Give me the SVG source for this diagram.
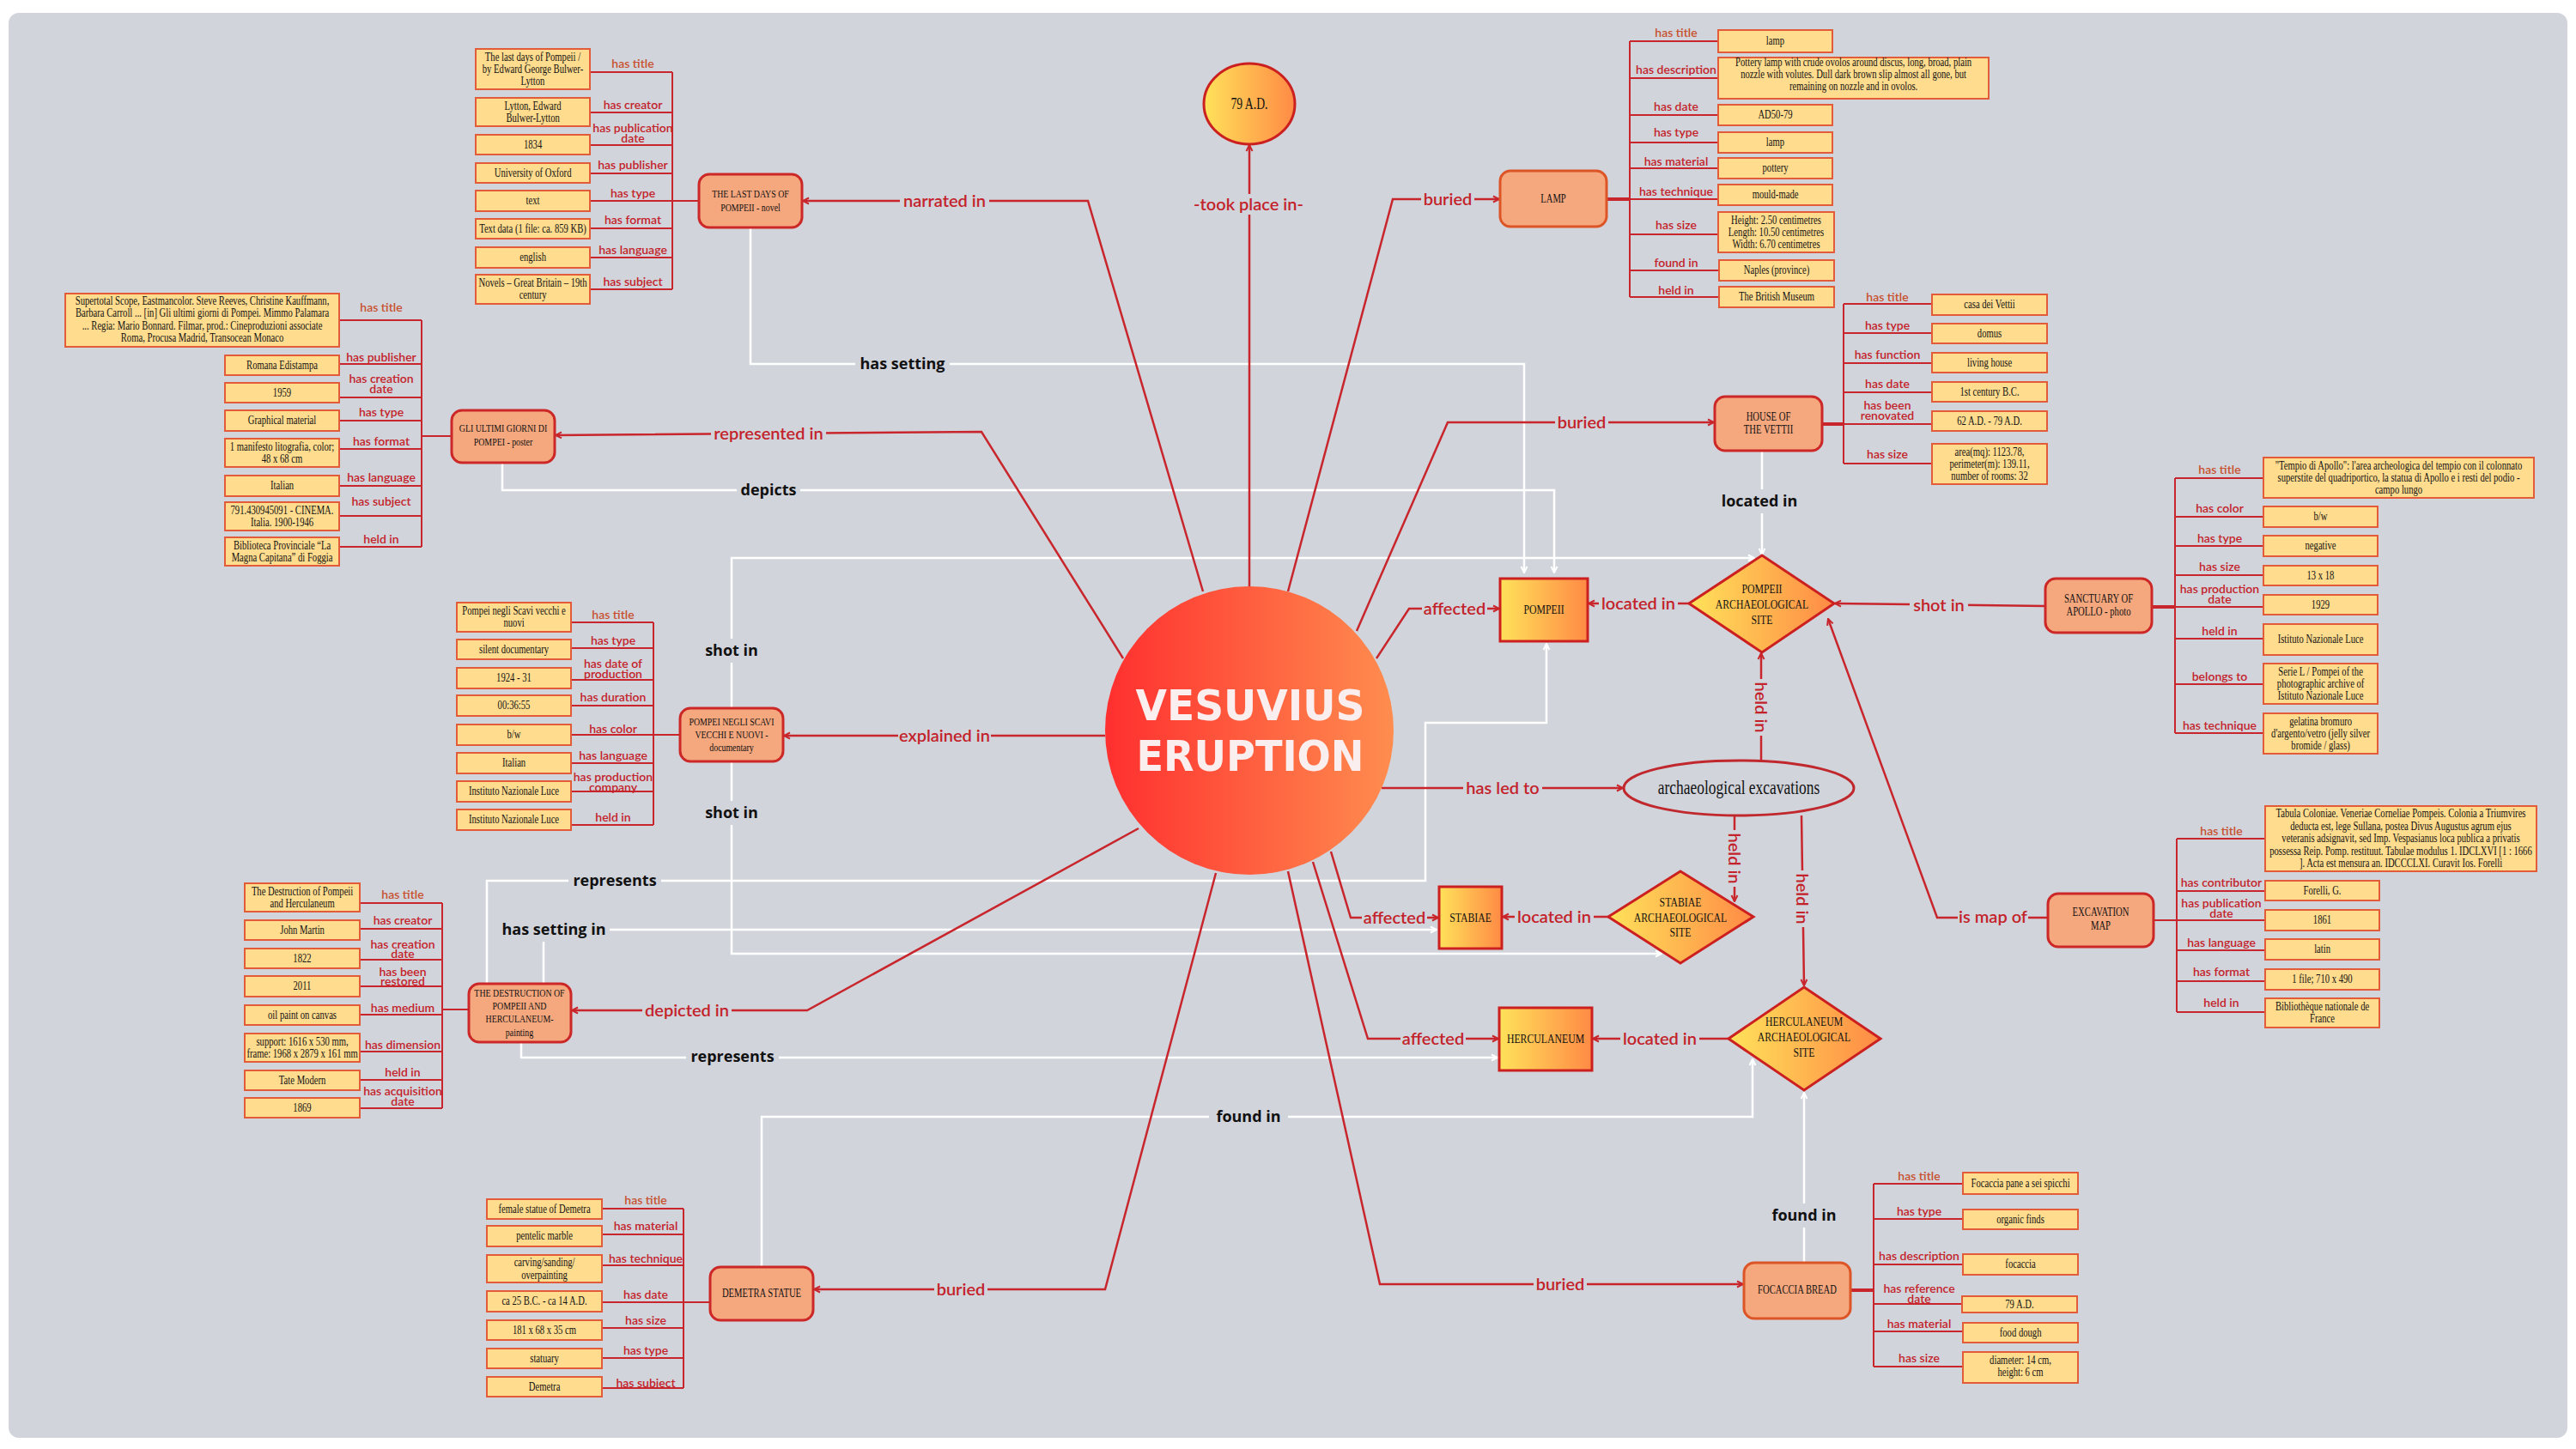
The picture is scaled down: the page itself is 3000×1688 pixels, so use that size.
<svg xmlns="http://www.w3.org/2000/svg" width="3000" height="1688" viewBox="0 0 3000 1688">
<defs>
<linearGradient id="gRed" x1="0" x2="1" y1="0" y2="0"><stop offset="0" stop-color="#ff2f2f"/><stop offset="1" stop-color="#ff8d4f"/></linearGradient>
<linearGradient id="gYel" x1="0" x2="1" y1="0" y2="0"><stop offset="0" stop-color="#ffe25a"/><stop offset="1" stop-color="#ff8a45"/></linearGradient>
<marker id="ar" viewBox="0 0 10 10" refX="9" refY="5" markerWidth="10" markerHeight="10" markerUnits="userSpaceOnUse" orient="auto"><path d="M2,1.5 L9,5 L2,8.5" fill="none" stroke="#c8262c" stroke-width="2"/></marker>
<marker id="aw" viewBox="0 0 10 10" refX="9" refY="5" markerWidth="10" markerHeight="10" markerUnits="userSpaceOnUse" orient="auto"><path d="M2,1.5 L9,5 L2,8.5" fill="none" stroke="#ffffff" stroke-width="2"/></marker>
<style>
.pn{fill:#d1d4db}
.bg{fill:#d1d4db}
.bx{fill:#ffdc8e;stroke:#e25c3a;stroke-width:2}
.nd{fill:#f5a77e;stroke:#cc2828;stroke-width:3}
.ndo{fill:#f5a77e;stroke:#dd5526;stroke-width:3}
.sq{fill:url(#gYel);stroke:#cc2020;stroke-width:3}
.t{font-family:"Liberation Serif","DejaVu Serif",serif;font-size:14px;fill:#111;text-anchor:middle;transform-box:fill-box;transform-origin:center;transform:scaleX(0.76)}
.n13{font-size:13px}
.t15{font-size:15.5px}
.lab{font-family:Lato,"Liberation Sans",sans-serif;font-size:14px;font-weight:600;fill:#c4222a;text-anchor:middle}
.lt{fill:#c8502e}
.bus{fill:none;stroke:#c8262c;stroke-width:2}
.cn{fill:none;stroke:#c8262c;stroke-width:2.5;marker-end:url(#ar)}
.wc{fill:none;stroke:#ffffff;stroke-width:2.5;marker-end:url(#aw)}
.cl{font-family:Lato,"Liberation Sans",sans-serif;font-size:20px;font-weight:600;fill:#c4222a;text-anchor:middle}
.wl{font-family:"Open Sans","DejaVu Sans",sans-serif;font-size:18px;font-weight:700;fill:#111;text-anchor:middle}
</style>
</defs>
<rect x="0" y="0" width="3000" height="1688" fill="#ffffff"/>
<rect class="pn" x="10" y="15" width="2980" height="1660" rx="12"/>

<g id="connectors">
 <g id="white-links">
  <path class="wc" d="M874,265 V424 H1775 V667"/>
  <path class="wc" d="M585,539 V571 H1810 V667"/>
  <path class="wc" d="M852,825 V650 H2043"/>
  <path class="wc" d="M852,887 V1111 H1935"/>
  <path class="wc" d="M633,1146 V1083 H1673"/>
  <path class="wc" d="M567,1146 V1026 H1660 V842 H1801 V750"/>
  <path class="wc" d="M607,1214 V1232 H1744"/>
  <path class="wc" d="M887,1476 V1301 H2041 V1234"/>
  <path class="wc" d="M2101,1471 V1273"/>
  <path class="wc" d="M2052,525 V646"/>
 </g>
 <g id="red-links">
  <path class="cn" d="M1401,689 L1267,234 H935"/>
  <path class="cn" d="M1455,683 V169"/>
  <path class="cn" d="M1500,689 L1622,232 H1746"/>
  <path class="cn" d="M1580,735 L1686,492 H1996"/>
  <path class="cn" d="M1603,767 L1641,709 H1746"/>
  <path class="cn" d="M1967,703 H1850"/>
  <path class="cn" d="M2382,706 L2137,703"/>
  <path class="cn" d="M1609,918 H1890"/>
  <path class="cn" d="M2051,886 V761"/>
  <path class="cn" d="M2020,950 V1050"/>
  <path class="cn" d="M2098,950 L2101,1148"/>
  <path class="cn" d="M1550,992 L1573,1069 H1675"/>
  <path class="cn" d="M1873,1068 H1750"/>
  <path class="cn" d="M1529,1004 L1593,1210 H1745"/>
  <path class="cn" d="M2013,1210 H1855"/>
  <path class="cn" d="M2385,1069 H2256 L2129,721"/>
  <path class="cn" d="M1287,857 H913"/>
  <path class="cn" d="M1308,767 L1143,503 L647,507"/>
  <path class="cn" d="M1326,965 L940,1177 H666"/>
  <path class="cn" d="M1416,1017 L1287,1502 H948"/>
  <path class="cn" d="M1500,1015 L1607,1496 H2030"/>
 </g>
 <g id="link-labels">
  <rect class="bg" x="1048" y="222" width="104" height="24"/><text class="cl" x="1100" y="241">narrated in</text>
  <rect class="bg" x="1386" y="226" width="136" height="24"/><text class="cl" x="1454" y="245">-took place in-</text>
  <rect class="bg" x="1655" y="220" width="62" height="24"/><text class="cl" x="1686" y="239">buried</text>
  <rect class="bg" x="1811" y="480" width="62" height="24"/><text class="cl" x="1842" y="499">buried</text>
  <rect class="bg" x="1656" y="697" width="76" height="24"/><text class="cl" x="1694" y="716">affected</text>
  <rect class="bg" x="1862" y="691" width="92" height="24"/><text class="cl" x="1908" y="710">located in</text>
  <rect class="bg" x="2224" y="693" width="68" height="24"/><text class="cl" x="2258" y="712">shot in</text>
  <rect class="bg" x="1704" y="906" width="92" height="24"/><text class="cl" x="1750" y="925">has led to</text>
  <rect class="bg" x="2039" y="791" width="24" height="66"/><text class="cl" transform="translate(2051,824) rotate(90)" x="0" y="7">held in</text>
  <rect class="bg" x="2008" y="967" width="24" height="66"/><text class="cl" transform="translate(2020,1000) rotate(90)" x="0" y="7">held in</text>
  <rect class="bg" x="2087" y="1014" width="24" height="66"/><text class="cl" transform="translate(2099,1047) rotate(90)" x="0" y="7">held in</text>
  <rect class="bg" x="1586" y="1057" width="76" height="24"/><text class="cl" x="1624" y="1076">affected</text>
  <rect class="bg" x="1764" y="1056" width="92" height="24"/><text class="cl" x="1810" y="1075">located in</text>
  <rect class="bg" x="1631" y="1198" width="76" height="24"/><text class="cl" x="1669" y="1217">affected</text>
  <rect class="bg" x="1887" y="1198" width="92" height="24"/><text class="cl" x="1933" y="1217">located in</text>
  <rect class="bg" x="2280" y="1056" width="82" height="24"/><text class="cl" x="2321" y="1075">is map of</text>
  <rect class="bg" x="1046" y="845" width="108" height="24"/><text class="cl" x="1100" y="864">explained in</text>
  <rect class="bg" x="828" y="493" width="134" height="24"/><text class="cl" x="895" y="512">represented in</text>
  <rect class="bg" x="748" y="1165" width="104" height="24"/><text class="cl" x="800" y="1184">depicted in</text>
  <rect class="bg" x="1088" y="1490" width="62" height="24"/><text class="cl" x="1119" y="1509">buried</text>
  <rect class="bg" x="1786" y="1484" width="62" height="24"/><text class="cl" x="1817" y="1503">buried</text>

  <rect class="bg" x="996" y="410" width="110" height="28"/><text class="wl" x="1051" y="430">has setting</text>
  <rect class="bg" x="858" y="557" width="74" height="28"/><text class="wl" x="895" y="577">depicts</text>
  <rect class="bg" x="816" y="744" width="72" height="28"/><text class="wl" x="852" y="764">shot in</text>
  <rect class="bg" x="816" y="933" width="72" height="28"/><text class="wl" x="852" y="953">shot in</text>
  <rect class="bg" x="580" y="1069" width="130" height="28"/><text class="wl" x="645" y="1089">has setting in</text>
  <rect class="bg" x="662" y="1012" width="108" height="28"/><text class="wl" x="716" y="1032">represents</text>
  <rect class="bg" x="799" y="1217" width="108" height="28"/><text class="wl" x="853" y="1237">represents</text>
  <rect class="bg" x="1408" y="1287" width="92" height="28"/><text class="wl" x="1454" y="1307">found in</text>
  <rect class="bg" x="2055" y="1402" width="92" height="28"/><text class="wl" x="2101" y="1422">found in</text>
  <rect class="bg" x="1996" y="570" width="106" height="28"/><text class="wl" x="2049" y="590">located in</text>
 </g>

 <g id="attr-links-lastdays">
  <path class="bus" d="M783,84 V337 M687,84 H783 M687,131 H783 M687,169 H783 M687,202 H783 M687,234 H814 M687,266 H783 M687,300 H783 M687,337 H783"/>
  <text class="lab lt" x="737" y="79">has title</text>
  <text class="lab" x="737" y="127">has creator</text>
  <text class="lab" x="737" y="154">has publication</text>
  <text class="lab" x="737" y="166">date</text>
  <text class="lab" x="737" y="197">has publisher</text>
  <text class="lab" x="737" y="230">has type</text>
  <text class="lab" x="737" y="261">has format</text>
  <text class="lab" x="737" y="296">has language</text>
  <text class="lab" x="737" y="333">has subject</text>
 </g>
 <g id="attr-links-poster">
  <path class="bus" d="M491,373 V637 M395,373 H491 M395,424 H491 M395,463 H491 M395,490 H491 M491,508 H526 M395,523 H491 M395,566 H491 M395,601 H491 M395,637 H491"/>
  <text class="lab lt" x="444" y="363">has title</text>
  <text class="lab" x="444" y="421">has publisher</text>
  <text class="lab" x="444" y="446">has creation</text>
  <text class="lab" x="444" y="458">date</text>
  <text class="lab" x="444" y="485">has type</text>
  <text class="lab" x="444" y="519">has format</text>
  <text class="lab" x="444" y="561">has language</text>
  <text class="lab" x="444" y="589">has subject</text>
  <text class="lab" x="444" y="633">held in</text>
 </g>
 <g id="attr-links-documentary">
  <path class="bus" d="M761,725 V961 M665,725 H761 M665,755 H761 M665,792 H761 M665,822 H761 M665,856 H792 M665,889 H761 M665,922 H761 M665,961 H761"/>
  <text class="lab lt" x="714" y="721">has title</text>
  <text class="lab" x="714" y="751">has type</text>
  <text class="lab" x="714" y="778">has date of</text>
  <text class="lab" x="714" y="790">production</text>
  <text class="lab" x="714" y="817">has duration</text>
  <text class="lab" x="714" y="854">has color</text>
  <text class="lab" x="714" y="885">has language</text>
  <text class="lab" x="714" y="910">has production</text>
  <text class="lab" x="714" y="922">company</text>
  <text class="lab" x="714" y="957">held in</text>
 </g>
 <g id="attr-links-painting">
  <path class="bus" d="M515,1052 V1291 M419,1052 H515 M419,1082 H515 M419,1118 H515 M419,1149 H515 M419,1182 H515 M515,1176 H546 M419,1225 H515 M419,1258 H515 M419,1291 H515"/>
  <text class="lab lt" x="469" y="1047">has title</text>
  <text class="lab" x="469" y="1077">has creator</text>
  <text class="lab" x="469" y="1105">has creation</text>
  <text class="lab" x="469" y="1116">date</text>
  <text class="lab" x="469" y="1137">has been</text>
  <text class="lab" x="469" y="1148">restored</text>
  <text class="lab" x="469" y="1179">has medium</text>
  <text class="lab" x="469" y="1222">has dimension</text>
  <text class="lab" x="469" y="1254">held in</text>
  <text class="lab" x="469" y="1276">has acquisition</text>
  <text class="lab" x="469" y="1288">date</text>
 </g>
 <g id="attr-links-demetra">
  <path class="bus" d="M796,1408 V1617 M701,1408 H796 M701,1438 H796 M701,1474 H796 M701,1517 H827 M701,1547 H796 M701,1582 H796 M701,1617 H796"/>
  <text class="lab lt" x="752" y="1403">has title</text>
  <text class="lab" x="752" y="1433">has material</text>
  <text class="lab" x="752" y="1471">has technique</text>
  <text class="lab" x="752" y="1513">has date</text>
  <text class="lab" x="752" y="1543">has size</text>
  <text class="lab" x="752" y="1578">has type</text>
  <text class="lab" x="752" y="1616">has subject</text>
 </g>
 <g id="attr-links-lamp">
  <path class="bus" d="M1898,48 V346 M1898,48 H2001 M1898,91 H2001 M1898,134 H2001 M1898,166 H2001 M1898,196 H2001 M1871,232 H2001 M1898,273 H2001 M1898,315 H2002 M1898,346 H2002"/>
  <path d="M1871,232 H1898" stroke="#c8262c" stroke-width="4"/>
  <text class="lab lt" x="1952" y="43">has title</text>
  <text class="lab" x="1952" y="86">has description</text>
  <text class="lab" x="1952" y="129">has date</text>
  <text class="lab" x="1952" y="159">has type</text>
  <text class="lab" x="1952" y="193">has material</text>
  <text class="lab" x="1952" y="228">has technique</text>
  <text class="lab" x="1952" y="267">has size</text>
  <text class="lab" x="1952" y="311">found in</text>
  <text class="lab" x="1952" y="343">held in</text>
 </g>
 <g id="attr-links-house">
  <path class="bus" d="M2147,354 V540 M2147,354 H2250 M2147,388 H2250 M2147,423 H2250 M2147,457 H2250 M2122,494 H2250 M2147,540 H2250"/>
  <path d="M2122,494 H2147" stroke="#c8262c" stroke-width="4"/>
  <text class="lab lt" x="2198" y="351">has title</text>
  <text class="lab" x="2198" y="384">has type</text>
  <text class="lab" x="2198" y="418">has function</text>
  <text class="lab" x="2198" y="452">has date</text>
  <text class="lab" x="2198" y="477">has been</text>
  <text class="lab" x="2198" y="489">renovated</text>
  <text class="lab" x="2198" y="534">has size</text>
 </g>
 <g id="attr-links-sanctuary">
  <path class="bus" d="M2533,557 V854 M2533,557 H2636 M2533,602 H2636 M2533,636 H2636 M2533,670 H2636 M2506,707 H2636 M2533,744 H2636 M2533,797 H2636 M2533,854 H2636"/>
  <path d="M2506,707 H2533" stroke="#c8262c" stroke-width="4"/>
  <text class="lab lt" x="2585" y="552">has title</text>
  <text class="lab" x="2585" y="597">has color</text>
  <text class="lab" x="2585" y="632">has type</text>
  <text class="lab" x="2585" y="665">has size</text>
  <text class="lab" x="2585" y="691">has production</text>
  <text class="lab" x="2585" y="703">date</text>
  <text class="lab" x="2585" y="740">held in</text>
  <text class="lab" x="2585" y="793">belongs to</text>
  <text class="lab" x="2585" y="850">has technique</text>
 </g>
 <g id="attr-links-map">
  <path class="bus" d="M2535,977 V1179 M2535,977 H2638 M2535,1038 H2638 M2508,1072 H2638 M2535,1107 H2638 M2535,1143 H2638 M2535,1179 H2638"/>
  <text class="lab lt" x="2587" y="973">has title</text>
  <text class="lab" x="2587" y="1033">has contributor</text>
  <text class="lab" x="2587" y="1057">has publication</text>
  <text class="lab" x="2587" y="1069">date</text>
  <text class="lab" x="2587" y="1103">has language</text>
  <text class="lab" x="2587" y="1137">has format</text>
  <text class="lab" x="2587" y="1173">held in</text>
 </g>
 <g id="attr-links-focaccia">
  <path class="bus" d="M2182,1379 V1592 M2182,1379 H2286 M2182,1420 H2286 M2182,1473 H2286 M2155,1503 H2182 M2182,1519 H2285 M2182,1551 H2286 M2182,1592 H2286"/>
  <path d="M2155,1503 H2182" stroke="#c8262c" stroke-width="4"/>
  <text class="lab lt" x="2235" y="1375">has title</text>
  <text class="lab" x="2235" y="1416">has type</text>
  <text class="lab" x="2235" y="1468">has description</text>
  <text class="lab" x="2235" y="1506">has reference</text>
  <text class="lab" x="2235" y="1518">date</text>
  <text class="lab" x="2235" y="1547">has material</text>
  <text class="lab" x="2235" y="1587">has size</text>
 </g>
</g>

<g id="node-vesuvius">
 <circle cx="1455" cy="851" r="168" fill="url(#gRed)"/>
 <text x="1456" y="839" font-family="'DejaVu Sans',sans-serif" font-weight="900" font-size="50" fill="#fbeeee" text-anchor="middle" textLength="267" lengthAdjust="spacingAndGlyphs">VESUVIUS</text>
 <text x="1456" y="898" font-family="'DejaVu Sans',sans-serif" font-weight="900" font-size="50" fill="#fbeeee" text-anchor="middle" textLength="265" lengthAdjust="spacingAndGlyphs">ERUPTION</text>
</g>
<g id="node-79ad">
 <ellipse cx="1455" cy="121" rx="53" ry="47" fill="url(#gYel)" stroke="#cc2020" stroke-width="3"/>
 <text class="t" x="1455" y="127" style="font-size:18px">79 A.D.</text>
</g>
<g id="node-pompeii"><rect class="sq" x="1747" y="674" width="102" height="73"/><text class="t t15" x="1798" y="715">POMPEII</text></g>
<g id="node-stabiae"><rect class="sq" x="1676" y="1033" width="73" height="72"/><text class="t t15" x="1712.5" y="1074">STABIAE</text></g>
<g id="node-herculaneum"><rect class="sq" x="1746" y="1174" width="108" height="73"/><text class="t t15" x="1800" y="1215">HERCULANEUM</text></g>
<g id="node-pompeii-site"><polygon class="sq" points="2052,647 2136,703 2052,760 1967,703"/><text class="t t15" x="2052" y="691"><tspan x="2052">POMPEII</tspan><tspan x="2052" y="709">ARCHAEOLOGICAL</tspan><tspan x="2052" y="727">SITE</tspan></text></g>
<g id="node-stabiae-site"><polygon class="sq" points="1957,1015 2042,1068 1957,1122 1873,1068"/><text class="t t15" x="1957" y="1056"><tspan x="1957">STABIAE</tspan><tspan x="1957" y="1074">ARCHAEOLOGICAL</tspan><tspan x="1957" y="1091">SITE</tspan></text></g>
<g id="node-herculaneum-site"><polygon class="sq" points="2101,1150 2190,1210 2101,1270 2013,1210"/><text class="t t15" x="2101" y="1195"><tspan x="2101">HERCULANEUM</tspan><tspan x="2101" y="1213">ARCHAEOLOGICAL</tspan><tspan x="2101" y="1231">SITE</tspan></text></g>
<g id="node-excavations">
 <ellipse cx="2025" cy="918" rx="134" ry="32" fill="#d1d4db" stroke="#c0282d" stroke-width="3"/>
 <text class="t" x="2025" y="925" style="font-size:23px">archaeological excavations</text>
</g>

<g id="node-lastdays"><rect class="nd" x="814" y="203" width="120" height="62" rx="12"/><text class="t n13" x="874" y="230"><tspan x="874">THE LAST DAYS OF</tspan><tspan x="874" y="246">POMPEII - novel</tspan></text></g>
<g id="node-poster"><rect class="nd" x="526" y="478" width="120" height="61" rx="12"/><text class="t n13" x="586" y="503"><tspan x="586">GLI ULTIMI GIORNI DI</tspan><tspan x="586" y="519">POMPEI - poster</tspan></text></g>
<g id="node-documentary"><rect class="nd" x="792" y="825" width="120" height="62" rx="12"/><text class="t n13" x="852" y="845"><tspan x="852">POMPEI NEGLI SCAVI</tspan><tspan x="852" y="860">VECCHI E NUOVI -</tspan><tspan x="852" y="875">documentary</tspan></text></g>
<g id="node-painting"><rect class="nd" x="546" y="1146" width="119" height="68" rx="12"/><text class="t n13" x="605" y="1161"><tspan x="605">THE DESTRUCTION OF</tspan><tspan x="605" y="1176">POMPEII AND</tspan><tspan x="605" y="1191">HERCULANEUM-</tspan><tspan x="605" y="1207">painting</tspan></text></g>
<g id="node-demetra"><rect class="nd" x="827" y="1476" width="120" height="62" rx="12"/><text class="t" x="887" y="1511">DEMETRA STATUE</text></g>
<g id="node-lamp"><rect class="ndo" x="1747" y="199" width="124" height="65" rx="12"/><text class="t" x="1809" y="236">LAMP</text></g>
<g id="node-house"><rect class="nd" x="1997" y="462" width="125" height="63" rx="12"/><text class="t" x="2059.5" y="490"><tspan x="2059.5">HOUSE OF</tspan><tspan x="2059.5" y="505">THE VETTII</tspan></text></g>
<g id="node-sanctuary"><rect class="nd" x="2382" y="674" width="124" height="63" rx="12"/><text class="t" x="2444" y="702"><tspan x="2444">SANCTUARY OF</tspan><tspan x="2444" y="717">APOLLO - photo</tspan></text></g>
<g id="node-map"><rect class="nd" x="2385" y="1041" width="123" height="62" rx="12"/><text class="t" x="2446.5" y="1067"><tspan x="2446.5">EXCAVATION</tspan><tspan x="2446.5" y="1083">MAP</tspan></text></g>
<g id="node-focaccia"><rect class="ndo" x="2031" y="1471" width="124" height="65" rx="12"/><text class="t" x="2093" y="1507">FOCACCIA BREAD</text></g>

<g id="attrs-lastdays">
 <g id="ld1"><rect class="bx" x="554" y="57" width="133" height="47"/><text class="t" x="620.5" y="71"><tspan x="620.5">The last days of Pompeii /</tspan><tspan x="620.5" y="85">by Edward George Bulwer-</tspan><tspan x="620.5" y="99">Lytton</tspan></text></g>
 <g id="ld2"><rect class="bx" x="554" y="114" width="133" height="33"/><text class="t" x="620.5" y="128"><tspan x="620.5">Lytton, Edward</tspan><tspan x="620.5" y="142">Bulwer-Lytton</tspan></text></g>
 <g id="ld3"><rect class="bx" x="554" y="157" width="133" height="23"/><text class="t" x="620.5" y="173">1834</text></g>
 <g id="ld4"><rect class="bx" x="554" y="190" width="133" height="23"/><text class="t" x="620.5" y="206">University of Oxford</text></g>
 <g id="ld5"><rect class="bx" x="554" y="222" width="133" height="24"/><text class="t" x="620.5" y="238.5">text</text></g>
 <g id="ld6"><rect class="bx" x="554" y="255" width="133" height="23"/><text class="t" x="620.5" y="271">Text data (1 file: ca. 859 KB)</text></g>
 <g id="ld7"><rect class="bx" x="554" y="288" width="133" height="24"/><text class="t" x="620.5" y="304.5">english</text></g>
 <g id="ld8"><rect class="bx" x="554" y="320" width="133" height="34"/><text class="t" x="620.5" y="334.5"><tspan x="620.5">Novels – Great Britain – 19th</tspan><tspan x="620.5" y="348.5">century</tspan></text></g>
</g>
<g id="attrs-poster">
 <g id="po1"><rect class="bx" x="76" y="342" width="319" height="62"/><text class="t" x="235.5" y="355"><tspan x="235.5">Supertotal Scope, Eastmancolor. Steve Reeves, Christine Kauffmann,</tspan><tspan x="235.5" y="369.5">Barbara Carroll ... [in] Gli ultimi giorni di Pompei. Mimmo Palamara</tspan><tspan x="235.5" y="384">... Regia: Mario Bonnard. Filmar, prod.: Cineproduzioni associate</tspan><tspan x="235.5" y="398.5">Roma, Procusa Madrid, Transocean Monaco</tspan></text></g>
 <g id="po2"><rect class="bx" x="262" y="414" width="133" height="23"/><text class="t" x="328.5" y="430">Romana Edistampa</text></g>
 <g id="po3"><rect class="bx" x="262" y="446" width="133" height="23"/><text class="t" x="328.5" y="462">1959</text></g>
 <g id="po4"><rect class="bx" x="262" y="478" width="133" height="24"/><text class="t" x="328.5" y="494.5">Graphical material</text></g>
 <g id="po5"><rect class="bx" x="262" y="511" width="133" height="33"/><text class="t" x="328.5" y="525"><tspan x="328.5">1 manifesto litografia, color;</tspan><tspan x="328.5" y="539">48 x 68 cm</tspan></text></g>
 <g id="po6"><rect class="bx" x="262" y="554" width="133" height="24"/><text class="t" x="328.5" y="570.5">Italian</text></g>
 <g id="po7"><rect class="bx" x="262" y="585" width="133" height="33"/><text class="t" x="328.5" y="599"><tspan x="328.5">791.430945091 - CINEMA.</tspan><tspan x="328.5" y="613">Italia. 1900-1946</tspan></text></g>
 <g id="po8"><rect class="bx" x="262" y="626" width="133" height="33"/><text class="t" x="328.5" y="640"><tspan x="328.5">Biblioteca Provinciale “La</tspan><tspan x="328.5" y="654">Magna Capitana” di Foggia</tspan></text></g>
</g>
<g id="attrs-documentary">
 <g id="do1"><rect class="bx" x="532" y="702" width="133" height="34"/><text class="t" x="598.5" y="716.5"><tspan x="598.5">Pompei negli Scavi vecchi e</tspan><tspan x="598.5" y="730.5">nuovi</tspan></text></g>
 <g id="do2"><rect class="bx" x="532" y="745" width="133" height="23"/><text class="t" x="598.5" y="761">silent documentary</text></g>
 <g id="do3"><rect class="bx" x="532" y="778" width="133" height="24"/><text class="t" x="598.5" y="794.5">1924 - 31</text></g>
 <g id="do4"><rect class="bx" x="532" y="810" width="133" height="24"/><text class="t" x="598.5" y="826.5">00:36:55</text></g>
 <g id="do5"><rect class="bx" x="532" y="844" width="133" height="24"/><text class="t" x="598.5" y="860.5">b/w</text></g>
 <g id="do6"><rect class="bx" x="532" y="877" width="133" height="24"/><text class="t" x="598.5" y="893.5">Italian</text></g>
 <g id="do7"><rect class="bx" x="532" y="910" width="133" height="24"/><text class="t" x="598.5" y="926.5">Instituto Nazionale Luce</text></g>
 <g id="do8"><rect class="bx" x="532" y="943" width="133" height="24"/><text class="t" x="598.5" y="959.5">Instituto Nazionale Luce</text></g>
</g>
<g id="attrs-painting">
 <g id="pa1"><rect class="bx" x="285" y="1029" width="134" height="33"/><text class="t" x="352" y="1043"><tspan x="352">The Destruction of Pompeii</tspan><tspan x="352" y="1057">and Herculaneum</tspan></text></g>
 <g id="pa2"><rect class="bx" x="285" y="1072" width="134" height="23"/><text class="t" x="352" y="1088">John Martin</text></g>
 <g id="pa3"><rect class="bx" x="285" y="1105" width="134" height="23"/><text class="t" x="352" y="1121">1822</text></g>
 <g id="pa4"><rect class="bx" x="285" y="1137" width="134" height="24"/><text class="t" x="352" y="1153.5">2011</text></g>
 <g id="pa5"><rect class="bx" x="285" y="1171" width="134" height="23"/><text class="t" x="352" y="1187">oil paint on canvas</text></g>
 <g id="pa6"><rect class="bx" x="285" y="1204" width="134" height="33"/><text class="t" x="352" y="1218"><tspan x="352">support: 1616 x 530 mm,</tspan><tspan x="352" y="1232">frame: 1968 x 2879 x 161 mm</tspan></text></g>
 <g id="pa7"><rect class="bx" x="285" y="1247" width="134" height="23"/><text class="t" x="352" y="1263">Tate Modern</text></g>
 <g id="pa8"><rect class="bx" x="285" y="1279" width="134" height="23"/><text class="t" x="352" y="1295">1869</text></g>
</g>
<g id="attrs-demetra">
 <g id="de1"><rect class="bx" x="567" y="1397" width="134" height="23"/><text class="t" x="634" y="1413">female statue of Demetra</text></g>
 <g id="de2"><rect class="bx" x="567" y="1428" width="134" height="24"/><text class="t" x="634" y="1444.5">pentelic marble</text></g>
 <g id="de3"><rect class="bx" x="567" y="1462" width="134" height="32"/><text class="t" x="634" y="1475.5"><tspan x="634">carving/sanding/</tspan><tspan x="634" y="1489.5">overpainting</tspan></text></g>
 <g id="de4"><rect class="bx" x="567" y="1504" width="134" height="24"/><text class="t" x="634" y="1520.5">ca 25 B.C. - ca 14 A.D.</text></g>
 <g id="de5"><rect class="bx" x="567" y="1538" width="134" height="23"/><text class="t" x="634" y="1554">181 x 68 x 35 cm</text></g>
 <g id="de6"><rect class="bx" x="567" y="1571" width="134" height="23"/><text class="t" x="634" y="1587">statuary</text></g>
 <g id="de7"><rect class="bx" x="567" y="1604" width="134" height="23"/><text class="t" x="634" y="1620">Demetra</text></g>
</g>
<g id="attrs-lamp">
 <g id="la1"><rect class="bx" x="2001" y="35" width="133" height="26"/><text class="t" x="2067.5" y="52.5">lamp</text></g>
 <g id="la2"><rect class="bx" x="2001" y="67" width="315" height="48"/><text class="t" x="2158.5" y="77.5"><tspan x="2158.5">Pottery lamp with crude ovolos around discus, long, broad, plain</tspan><tspan x="2158.5" y="91.5">nozzle with volutes. Dull dark brown slip almost all gone, but</tspan><tspan x="2158.5" y="105.5">remaining on nozzle and in ovolos.</tspan></text></g>
 <g id="la3"><rect class="bx" x="2001" y="122" width="133" height="24"/><text class="t" x="2067.5" y="138.5">AD50-79</text></g>
 <g id="la4"><rect class="bx" x="2001" y="154" width="133" height="24"/><text class="t" x="2067.5" y="170.5">lamp</text></g>
 <g id="la5"><rect class="bx" x="2001" y="184" width="133" height="24"/><text class="t" x="2067.5" y="200.5">pottery</text></g>
 <g id="la6"><rect class="bx" x="2001" y="215" width="133" height="24"/><text class="t" x="2067.5" y="231.5">mould-made</text></g>
 <g id="la7"><rect class="bx" x="2001" y="247" width="135" height="47"/><text class="t" x="2068.5" y="261"><tspan x="2068.5">Height: 2.50 centimetres</tspan><tspan x="2068.5" y="275">Length: 10.50 centimetres</tspan><tspan x="2068.5" y="289">Width: 6.70 centimetres</tspan></text></g>
 <g id="la8"><rect class="bx" x="2002" y="303" width="134" height="24"/><text class="t" x="2069" y="319.5">Naples (province)</text></g>
 <g id="la9"><rect class="bx" x="2002" y="334" width="134" height="24"/><text class="t" x="2069" y="350.5">The British Museum</text></g>
</g>
<g id="attrs-house">
 <g id="ho1"><rect class="bx" x="2250" y="343" width="134" height="24"/><text class="t" x="2317" y="359.5">casa dei Vettii</text></g>
 <g id="ho2"><rect class="bx" x="2250" y="377" width="134" height="23"/><text class="t" x="2317" y="393">domus</text></g>
 <g id="ho3"><rect class="bx" x="2250" y="411" width="134" height="23"/><text class="t" x="2317" y="427">living house</text></g>
 <g id="ho4"><rect class="bx" x="2250" y="445" width="134" height="23"/><text class="t" x="2317" y="461">1st century B.C.</text></g>
 <g id="ho5"><rect class="bx" x="2250" y="479" width="134" height="23"/><text class="t" x="2317" y="495">62 A.D. - 79 A.D.</text></g>
 <g id="ho6"><rect class="bx" x="2250" y="517" width="134" height="47"/><text class="t" x="2317" y="531"><tspan x="2317">area(mq): 1123.78,</tspan><tspan x="2317" y="545">perimeter(m): 139.11,</tspan><tspan x="2317" y="559">number of rooms: 32</tspan></text></g>
</g>
<g id="attrs-sanctuary">
 <g id="sa1"><rect class="bx" x="2636" y="533" width="315" height="47"/><text class="t" x="2793.5" y="547"><tspan x="2793.5">"Tempio di Apollo": l'area archeologica del tempio con il colonnato</tspan><tspan x="2793.5" y="561">superstite del quadriportico, la statua di Apollo e i resti del podio -</tspan><tspan x="2793.5" y="575">campo lungo</tspan></text></g>
 <g id="sa2"><rect class="bx" x="2636" y="590" width="133" height="24"/><text class="t" x="2702.5" y="606.5">b/w</text></g>
 <g id="sa3"><rect class="bx" x="2636" y="624" width="133" height="24"/><text class="t" x="2702.5" y="640.5">negative</text></g>
 <g id="sa4"><rect class="bx" x="2636" y="659" width="133" height="23"/><text class="t" x="2702.5" y="675">13 x 18</text></g>
 <g id="sa5"><rect class="bx" x="2636" y="693" width="133" height="23"/><text class="t" x="2702.5" y="709">1929</text></g>
 <g id="sa6"><rect class="bx" x="2636" y="727" width="133" height="36"/><text class="t" x="2702.5" y="749.5">Istituto Nazionale Luce</text></g>
 <g id="sa7"><rect class="bx" x="2636" y="773" width="133" height="47"/><text class="t" x="2702.5" y="787"><tspan x="2702.5">Serie L / Pompei of the</tspan><tspan x="2702.5" y="801">photographic archive of</tspan><tspan x="2702.5" y="815">Istituto Nazionale Luce</tspan></text></g>
 <g id="sa8"><rect class="bx" x="2636" y="831" width="133" height="47"/><text class="t" x="2702.5" y="845"><tspan x="2702.5">gelatina bromuro</tspan><tspan x="2702.5" y="859">d'argento/vetro (jelly silver</tspan><tspan x="2702.5" y="873">bromide / glass)</tspan></text></g>
</g>
<g id="attrs-map">
 <g id="ma1"><rect class="bx" x="2638" y="939" width="316" height="76"/><text class="t" x="2796" y="952.5"><tspan x="2796">Tabula Coloniae. Veneriae Corneliae Pompeis. Colonia a Triumvires</tspan><tspan x="2796" y="967">deducta est, lege Sullana, postea Divus Augustus agrum ejus</tspan><tspan x="2796" y="981.5">veteranis adsignavit, sed Imp. Vespasianus loca publica a privatis</tspan><tspan x="2796" y="996">possessa Reip. Pomp. restituut. Tabulae modulus 1. IDCLXVI [1 : 1666</tspan><tspan x="2796" y="1010">]. Acta est mensura an. IDCCCLXI. Curavit Ios. Forelli</tspan></text></g>
 <g id="ma2"><rect class="bx" x="2638" y="1026" width="133" height="23"/><text class="t" x="2704.5" y="1042">Forelli, G.</text></g>
 <g id="ma3"><rect class="bx" x="2638" y="1060" width="133" height="24"/><text class="t" x="2704.5" y="1076.5">1861</text></g>
 <g id="ma4"><rect class="bx" x="2638" y="1094" width="133" height="24"/><text class="t" x="2704.5" y="1110.5">latin</text></g>
 <g id="ma5"><rect class="bx" x="2638" y="1129" width="133" height="24"/><text class="t" x="2704.5" y="1145.5">1 file; 710 x 490</text></g>
 <g id="ma6"><rect class="bx" x="2638" y="1163" width="133" height="34"/><text class="t" x="2704.5" y="1177.5"><tspan x="2704.5">Bibliothèque nationale de</tspan><tspan x="2704.5" y="1191.5">France</tspan></text></g>
</g>
<g id="attrs-focaccia">
 <g id="fo1"><rect class="bx" x="2286" y="1366" width="134" height="25"/><text class="t" x="2353" y="1383">Focaccia pane a sei spicchi</text></g>
 <g id="fo2"><rect class="bx" x="2286" y="1409" width="134" height="23"/><text class="t" x="2353" y="1425">organic finds</text></g>
 <g id="fo3"><rect class="bx" x="2286" y="1461" width="134" height="24"/><text class="t" x="2353" y="1477.5">focaccia</text></g>
 <g id="fo4"><rect class="bx" x="2285" y="1510" width="134" height="19"/><text class="t" x="2352" y="1524">79 A.D.</text></g>
 <g id="fo5"><rect class="bx" x="2286" y="1541" width="134" height="23"/><text class="t" x="2353" y="1557">food dough</text></g>
 <g id="fo6"><rect class="bx" x="2286" y="1575" width="134" height="36"/><text class="t" x="2353" y="1589.5"><tspan x="2353">diameter: 14 cm,</tspan><tspan x="2353" y="1603.5">height: 6 cm</tspan></text></g>
</g>
</svg>
